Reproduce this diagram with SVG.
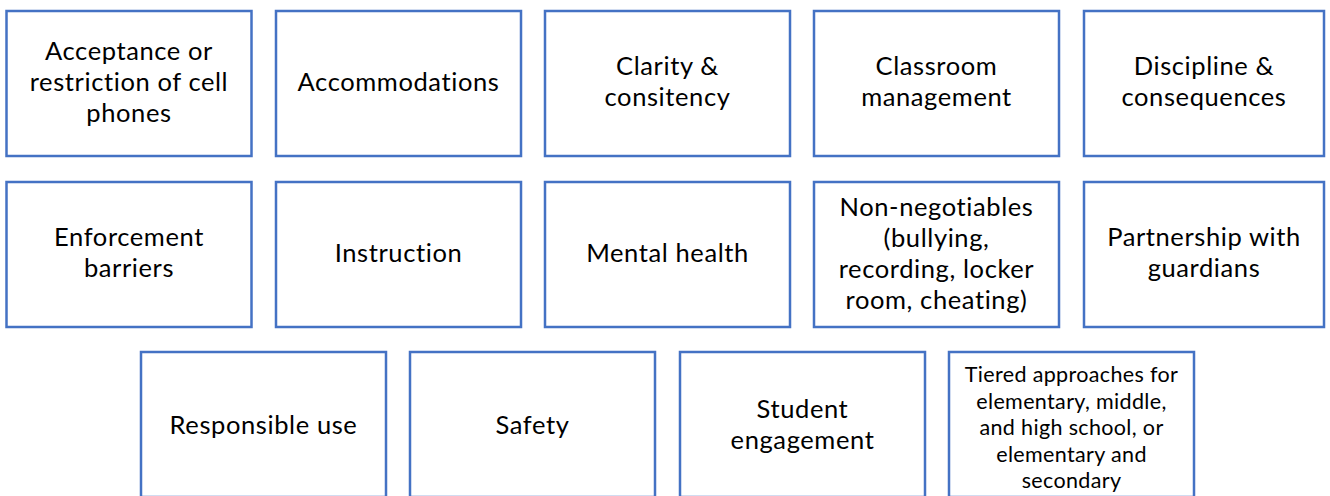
<svg xmlns="http://www.w3.org/2000/svg" width="1330" height="496" viewBox="0 0 1330 496">
  <style>
    .box { fill: #ffffff; stroke: #4472C4; stroke-width: 2.5; }
    .lbl { font-family: Lato, "Liberation Sans", sans-serif; font-size: 25.5px; letter-spacing: 0.6px; fill: #000000; text-anchor: middle; }
    .sm { font-size: 21.5px; letter-spacing: 0.35px; }
  </style>
  <rect width="1330" height="496" fill="#ffffff"/>

  <!-- Row 1 -->
  <g id="n-acceptance">
    <rect class="box" x="6.5" y="11" width="245" height="145"/>
    <text class="lbl" x="129" y="60">Acceptance or<tspan x="129" dy="31">restriction of cell</tspan><tspan x="129" dy="31">phones</tspan></text>
  </g>
  <g id="n-accommodations">
    <rect class="box" x="276" y="11" width="245" height="145"/>
    <text class="lbl" x="398.5" y="91">Accommodations</text>
  </g>
  <g id="n-clarity">
    <rect class="box" x="545" y="11" width="245" height="145"/>
    <text class="lbl" x="667.5" y="75">Clarity &amp;<tspan x="667.5" dy="31">consitency</tspan></text>
  </g>
  <g id="n-classroom">
    <rect class="box" x="814" y="11" width="245" height="145"/>
    <text class="lbl" x="936.5" y="75">Classroom<tspan x="936.5" dy="31">management</tspan></text>
  </g>
  <g id="n-discipline">
    <rect class="box" x="1084" y="11" width="240" height="145"/>
    <text class="lbl" x="1204" y="75">Discipline &amp;<tspan x="1204" dy="31">consequences</tspan></text>
  </g>

  <!-- Row 2 -->
  <g id="n-enforcement">
    <rect class="box" x="6.5" y="182" width="245" height="145"/>
    <text class="lbl" x="129" y="246">Enforcement<tspan x="129" dy="31">barriers</tspan></text>
  </g>
  <g id="n-instruction">
    <rect class="box" x="276" y="182" width="245" height="145"/>
    <text class="lbl" x="398.5" y="262">Instruction</text>
  </g>
  <g id="n-mental">
    <rect class="box" x="545" y="182" width="245" height="145"/>
    <text class="lbl" x="667.5" y="262">Mental health</text>
  </g>
  <g id="n-nonneg">
    <rect class="box" x="814" y="182" width="245" height="145"/>
    <text class="lbl" x="936.5" y="216">Non-negotiables<tspan x="936.5" dy="31">(bullying,</tspan><tspan x="936.5" dy="31">recording, locker</tspan><tspan x="936.5" dy="31">room, cheating)</tspan></text>
  </g>
  <g id="n-partnership">
    <rect class="box" x="1084" y="182" width="240" height="145"/>
    <text class="lbl" x="1204" y="246">Partnership with<tspan x="1204" dy="31">guardians</tspan></text>
  </g>

  <!-- Row 3 -->
  <g id="n-responsible">
    <rect class="box" x="141" y="352" width="245" height="145"/>
    <text class="lbl" x="263.5" y="434">Responsible use</text>
  </g>
  <g id="n-safety">
    <rect class="box" x="410" y="352" width="245" height="145"/>
    <text class="lbl" x="532.5" y="434">Safety</text>
  </g>
  <g id="n-engagement">
    <rect class="box" x="680" y="352" width="245" height="145"/>
    <text class="lbl" x="802.5" y="418">Student<tspan x="802.5" dy="31">engagement</tspan></text>
  </g>
  <g id="n-tiered">
    <rect class="box" x="949" y="352" width="245" height="145"/>
    <text class="lbl sm" x="1071.5" y="382">Tiered approaches for<tspan x="1071.5" dy="26.5">elementary, middle,</tspan><tspan x="1071.5" dy="26.5">and high school, or</tspan><tspan x="1071.5" dy="26.5">elementary and</tspan><tspan x="1071.5" dy="26.5">secondary</tspan></text>
  </g>

  <g id="connectors"></g>
</svg>
